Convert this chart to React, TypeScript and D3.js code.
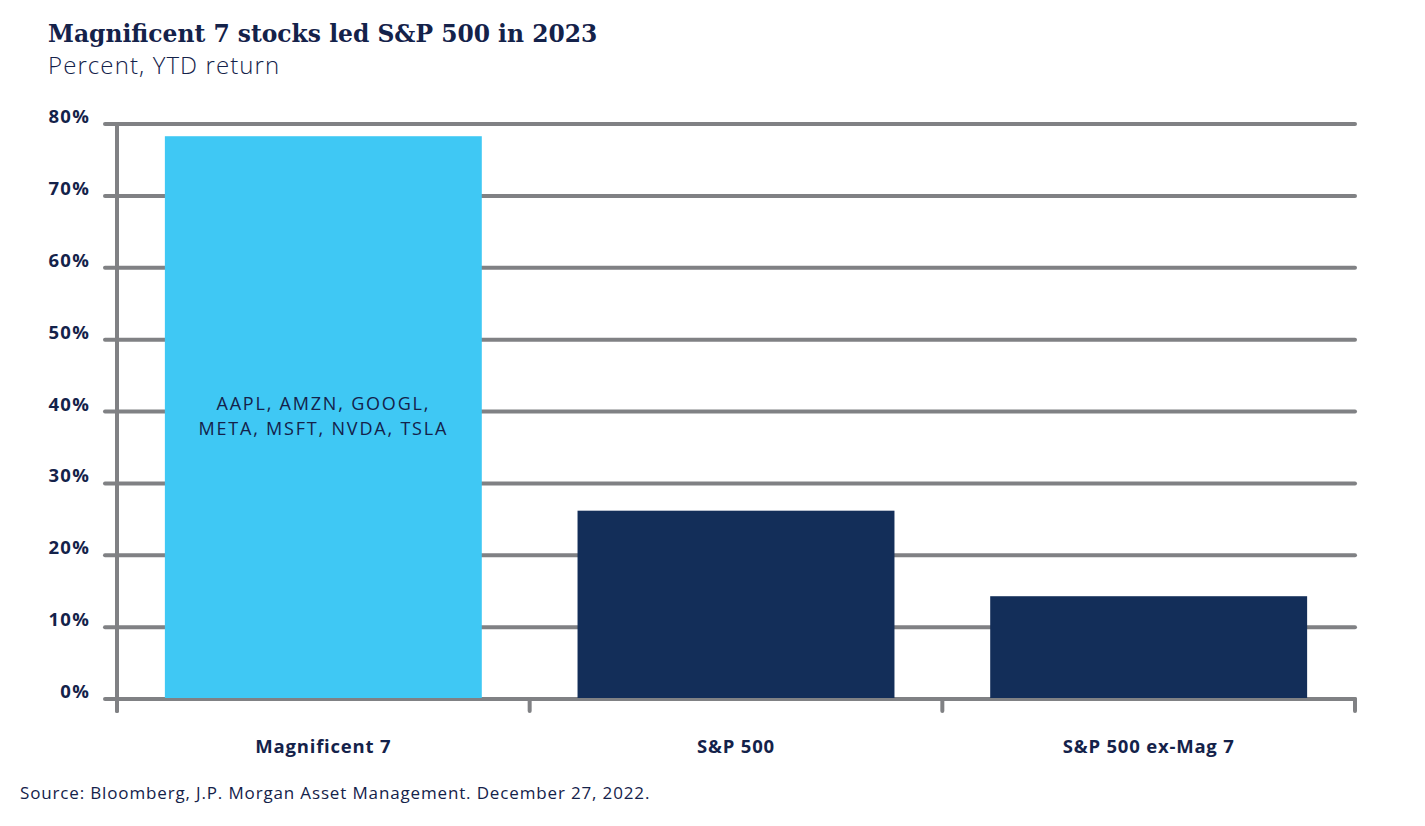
import React from "react";
import * as d3 from "d3";

const categories = ["Magnificent 7", "S&P 500", "S&P 500 ex-Mag 7"];
const values = [78.3, 26.2, 14.3];
const barColors = ["#3fc8f4", "#132e59", "#132e59"];
const yTicks = [0, 10, 20, 30, 40, 50, 60, 70, 80];
const insideLabel = ["AAPL, AMZN, GOOGL,", "META, MSFT, NVDA, TSLA"];

const W = 1425;
const H = 826;
const left = 117;
const right = 1355;
const top = 124;
const bottom = 699;
const grid = "#808184";
const ink = "#14224a";
const sans = "'Open Sans', Lato, sans-serif";

export default function App() {
  const x = d3.scaleBand<string>().domain(categories).range([left, right]).paddingInner(0.232).paddingOuter(0.116);
  const y = d3.scaleLinear().domain([0, 80]).range([bottom, top]);
  const bandTicks = d3.range(categories.length + 1).map((i) => left + i * x.step());
  const labelX = (x(categories[0]) as number) + x.bandwidth() / 2;
  return (
    <svg width={W} height={H} style={{ position: "absolute", left: 0, top: 0, background: "#fff" }}>
      <text x={48} y={42} fontFamily="'DejaVu Serif', serif" fontWeight="bold" fontSize={23.4} fill={ink}>
        Magnificent 7 stocks led S&amp;P 500 in 2023
      </text>
      <text x={48} y={74} fontFamily={sans} fontWeight={300} fontSize={24} letterSpacing={1.1} fill={ink}>
        Percent, YTD return
      </text>
      {yTicks.map((t) => (
        <g key={t}>
          <line x1={105} x2={1355} y1={y(t)} y2={y(t)} stroke={grid} strokeWidth={4} strokeLinecap="round" />
          <text x={90} y={y(t) - 1} textAnchor="end" fontFamily={sans} fontWeight="bold" fontSize={18.5} letterSpacing={1.2} fill={ink}>
            {t}%
          </text>
        </g>
      ))}
      <line x1={left} x2={left} y1={top} y2={bottom + 12} stroke={grid} strokeWidth={4} strokeLinecap="round" />
      {bandTicks.map((bx, i) => (
        <line key={i} x1={bx} x2={bx} y1={bottom} y2={bottom + 12} stroke={grid} strokeWidth={4} strokeLinecap="round" />
      ))}
      {categories.map((c, i) => (
        <rect key={c} x={x(c)} y={y(values[i])} width={x.bandwidth()} height={y(0) - y(values[i]) - 1} fill={barColors[i]} />
      ))}
      <text textAnchor="middle" fontFamily={sans} fontSize={18} letterSpacing={1.8} fill={ink}>
        {insideLabel.map((s, i) => (
          <tspan key={s} x={labelX} y={410 + i * 25}>
            {s}
          </tspan>
        ))}
      </text>
      {categories.map((c) => (
        <text key={c} x={(x(c) as number) + x.bandwidth() / 2} y={753} textAnchor="middle" fontFamily={sans} fontWeight="bold" fontSize={18.5} letterSpacing={0.8} fill={ink}>
          {c}
        </text>
      ))}
      <text x={20} y={799} fontFamily={sans} fontSize={17} letterSpacing={0.85} fill={ink}>
        Source: Bloomberg, J.P. Morgan Asset Management. December 27, 2022.
      </text>
    </svg>
  );
}
